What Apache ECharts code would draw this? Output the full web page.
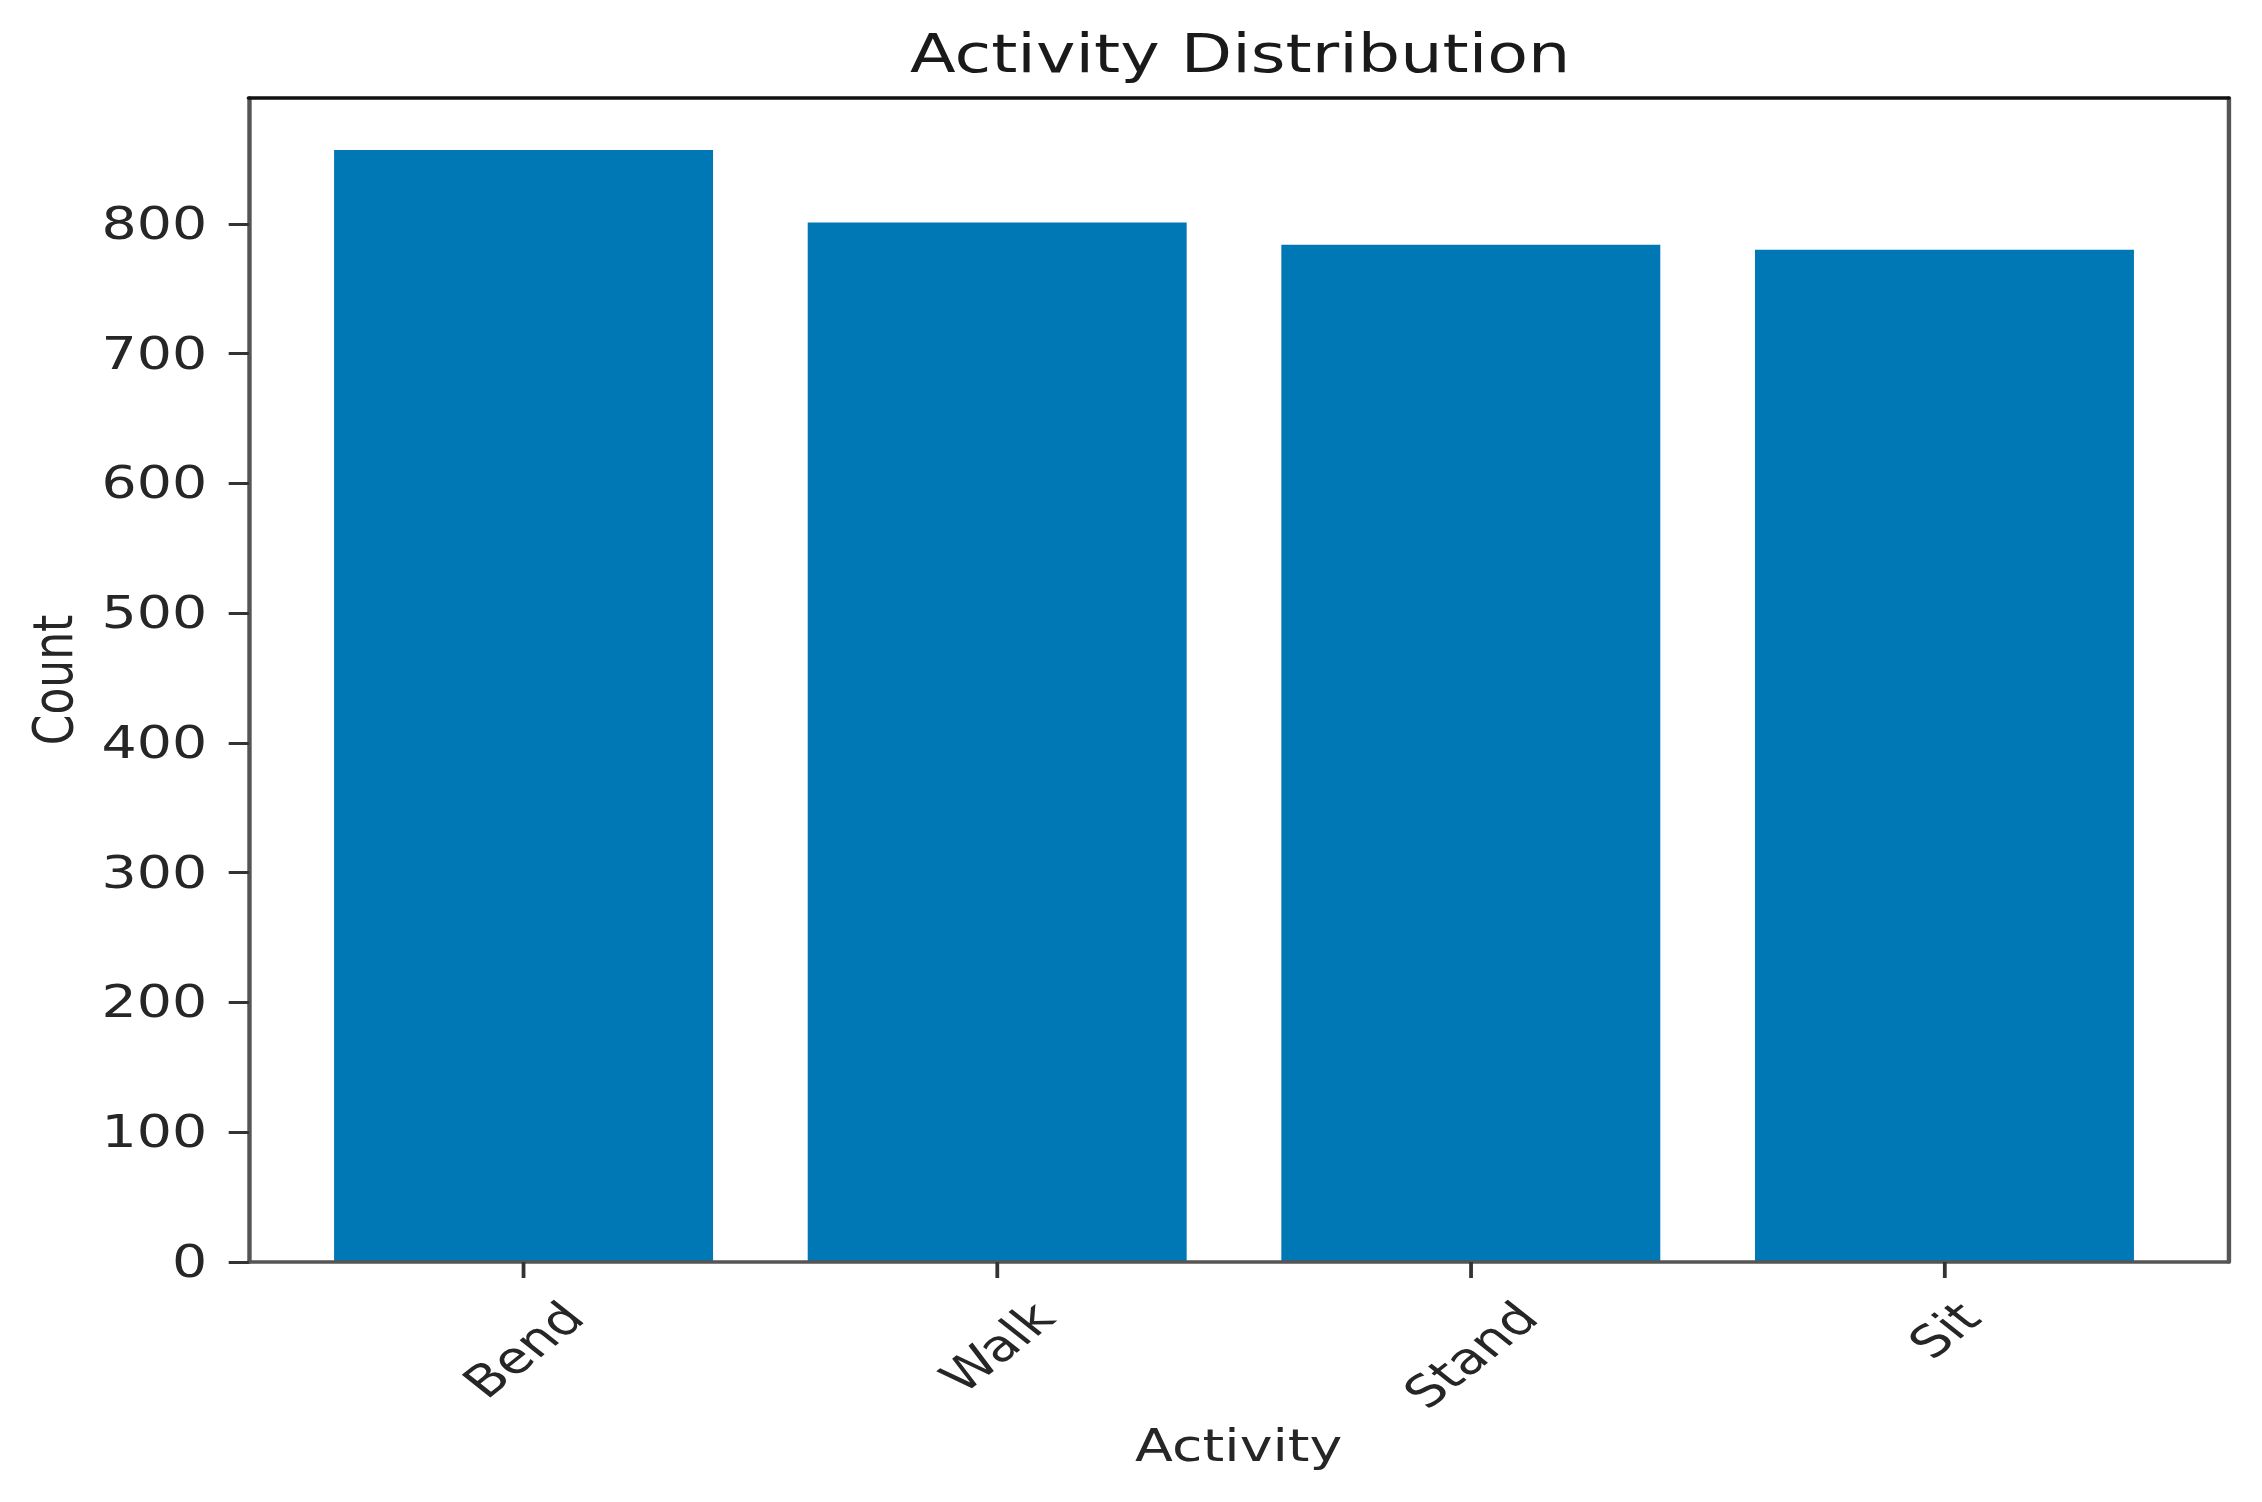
<!DOCTYPE html>
<html><head><meta charset="utf-8">
<script src="https://cdn.jsdelivr.net/npm/echarts@6/dist/echarts.min.js"></script>
<style>
html,body{margin:0;padding:0;background:#fff;overflow:hidden}
#wrap{width:2262px;height:1502px;overflow:hidden;position:relative;background:#fff}
#chart{width:1795px;height:1502px;transform:scaleX(1.26);transform-origin:0 0}
</style></head>
<body><div id="wrap"><div id="chart"></div></div>
<script>
// ---- data ----
const categories = ['Bend', 'Walk', 'Stand', 'Sit'];
const counts = [857, 801, 784, 780];
const yTicks = [0, 100, 200, 300, 400, 500, 600, 700, 800];
const xTicks = [0, 1, 2, 3];
const titleText = 'Activity Distribution';
const xName = 'Activity';
const yName = 'Count';

// ---- layout (the reference image is horizontally stretched; we reproduce that with a CSS scaleX) ----
const STRETCH = 1.26;
const W0 = 2262 / STRETCH;
const FONT = '"DejaVu Sans", sans-serif';
const gridL = 197.5, gridR = W0 - 1769, gridT = 98, gridB = 240;
const xMin = -0.58, xMax = 3.60, yMax = 897;
const barWidth = (W0 - gridL - gridR) * 0.8 / (xMax - xMin);
const TXT = '#262626';

const ctx = document.createElement('canvas').getContext('2d');
ctx.font = '44px "DejaVu Sans"';
const LH = 51;
const rich = {};
categories.forEach((c, i) => {
  const w = ctx.measureText(c).width;
  const p = (w + LH) / 2;
  rich['c' + i] = { fontSize: 44, fontFamily: FONT, color: TXT, padding: [p, p, 0, 0] };
});

const chart = echarts.init(document.getElementById('chart'), null, { renderer: 'svg' });
const hidden = { show: false };
chart.setOption({
  animation: false,
  backgroundColor: '#fff',
  title: {
    text: titleText,
    left: gridL + (W0 - gridL - gridR) / 2 - 4,
    textAlign: 'center',
    top: 22,
    textStyle: { fontFamily: FONT, fontSize: 53, fontWeight: 'normal', color: '#1a1a1a' }
  },
  grid: { left: gridL, right: gridR, top: gridT, bottom: gridB, containLabel: false },
  xAxis: [{
    type: 'value', min: xMin, max: xMax, position: 'bottom', z: 3,
    name: xName, nameLocation: 'middle', nameGap: 162,
    nameTextStyle: { fontFamily: FONT, fontSize: 44, color: TXT },
    axisLine: { show: true, onZero: false, lineStyle: { color: '#555', width: 3.5 } },
    axisTick: { show: true, inside: false, length: 16, customValues: xTicks, lineStyle: { color: '#333', width: 3 } },
    axisLabel: {
      customValues: xTicks, rotate: 45, margin: 30, align: 'center', verticalAlign: 'middle',
      formatter: v => '{c' + v + '|' + categories[v] + '}', rich: rich
    },
    splitLine: hidden
  }, {
    type: 'value', min: xMin, max: xMax, position: 'top', z: 3,
    axisLine: { show: true, onZero: false, lineStyle: { color: '#111', width: 3.5 } },
    axisTick: hidden, axisLabel: hidden, splitLine: hidden
  }],
  yAxis: [{
    type: 'value', min: 0, max: yMax, position: 'left', z: 3,
    name: yName, nameLocation: 'middle', nameGap: 133,
    nameTextStyle: { fontFamily: FONT, fontSize: 44, color: TXT },
    axisLine: { show: true, onZero: false, lineStyle: { color: '#555', width: 3.5 } },
    axisTick: { show: true, inside: false, length: 16, customValues: yTicks, lineStyle: { color: '#333', width: 3 } },
    axisLabel: { customValues: yTicks, margin: 33, fontFamily: FONT, fontSize: 44, color: TXT },
    splitLine: hidden
  }, {
    type: 'value', min: 0, max: yMax, position: 'right', z: 3,
    axisLine: { show: true, onZero: false, lineStyle: { color: '#555', width: 3.5 } },
    axisTick: hidden, axisLabel: hidden, splitLine: hidden
  }],
  series: [{
    type: 'bar', xAxisIndex: 0, yAxisIndex: 0,
    barWidth: barWidth,
    itemStyle: { color: '#0078b6' },
    data: xTicks.map((x, i) => [x, counts[i]])
  }]
});
</script>
</body></html>
